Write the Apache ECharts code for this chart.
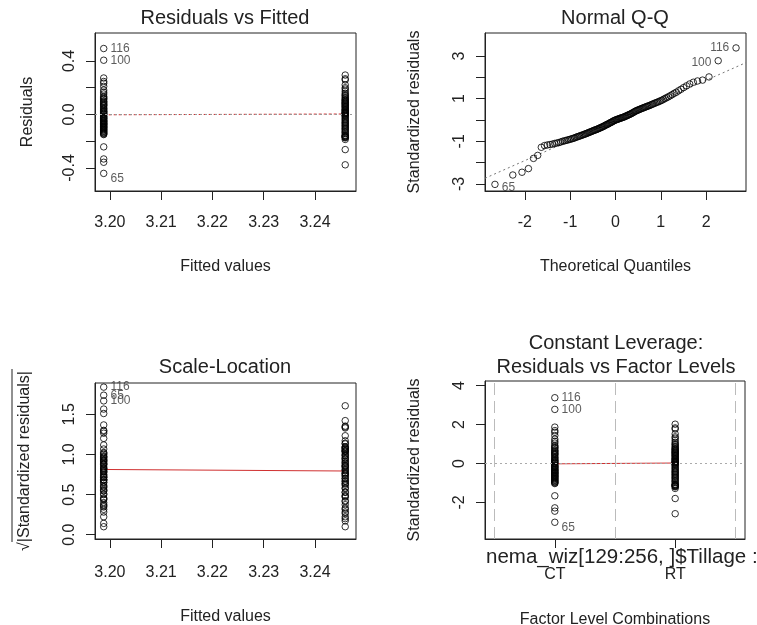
<!DOCTYPE html>
<html><head><meta charset="utf-8">
<script src="https://cdn.jsdelivr.net/npm/echarts@6/dist/echarts.min.js"></script>
<style>html,body{margin:0;padding:0;background:#fff}#c{width:757px;height:625px}</style>
</head><body><div id="c"></div>
<script>
// ---------------- data ----------------
const factorLevels = ['CT', 'RT'];
const fittedValues = [3.1988, 3.2459];          // fitted value of each level
const stdResidCT = [
  3.38, 2.78, -3.02, -2.45, -2.28, -1.66,
  -1.03, -1.00, -0.96, -0.94, -0.90, -0.86, -0.84, -0.79, -0.77, -0.73,
  -0.69, -0.67, -0.63, -0.61, -0.57, -0.53, -0.51, -0.47, -0.46, -0.42,
  -0.38, -0.36, -0.32, -0.30, -0.25, -0.21, -0.19, -0.14, -0.12, -0.08,
  -0.01, 0.02, 0.05, 0.10, 0.13, 0.16, 0.20, 0.26, 0.30, 0.35,
  0.43, 0.47, 0.51, 0.55, 0.61, 0.65, 0.69, 0.77, 0.82, 0.87,
  0.93, 1.05, 1.14, 1.25, 1.44, 1.60, 1.69, 1.87];
const stdResidRT = [
  -2.58, -1.80, -1.28, -1.20, -1.17, -1.15, -1.13, -1.10, -1.08, -1.06,
  -0.98, -0.92, -0.88, -0.81, -0.75, -0.71, -0.65, -0.59, -0.55, -0.49,
  -0.44, -0.40, -0.34, -0.28, -0.23, -0.17, -0.10, -0.05, -0.03, 0.01,
  0.04, 0.07, 0.08, 0.11, 0.14, 0.18, 0.22, 0.24, 0.28, 0.33,
  0.38, 0.41, 0.45, 0.49, 0.53, 0.57, 0.59, 0.63, 0.67, 0.72,
  0.74, 0.79, 0.84, 0.90, 0.97, 1.01, 1.09, 1.19, 1.30, 1.37,
  1.52, 1.77, 1.83, 2.02];
const labelledIds = ['116', '100', '65'];
const labelledStd = [3.38, 2.78, -3.02];
const residualSE = 0.147;

const fittedTicks = [3.20, 3.21, 3.22, 3.23, 3.24];
const residTicks = [-0.4, -0.2, 0, 0.2, 0.4];
const residTickLabels = [-0.4, 0, 0.4];
const qqXTicks = [-2, -1, 0, 1, 2];
const qqYTicks = [-3, -2, -1, 0, 1, 2, 3];
const qqYTickLabels = [-3, -1, 1, 3];
const slTicks = [0, 0.5, 1, 1.5];
const flYTicks = [-2, 0, 2, 4];
const flXTicks = [0, 1];
const levelBoundaries = [-0.5, 0.5, 1.5];

// ---------------- helpers ----------------
const FONT = '"Liberation Sans", Arial, sans-serif';
const TXT = '#222';
function qnorm(p){
  const a=[-3.969683028665376e+01,2.209460984245205e+02,-2.759285104469687e+02,1.383577518672690e+02,-3.066479806614716e+01,2.506628277459239e+00];
  const b=[-5.447609879822406e+01,1.615858368580409e+02,-1.556989798598866e+02,6.680131188771972e+01,-1.328068155288572e+01];
  const c=[-7.784894002430293e-03,-3.223964580411365e-01,-2.400758277161838e+00,-2.549732539343734e+00,4.374664141464968e+00,2.938163982698783e+00];
  const d=[7.784695709041462e-03,3.224671290700398e-01,2.445134137142996e+00,3.754408661907416e+00];
  const pl=0.02425, ph=1-pl; let q,r;
  if(p<pl){q=Math.sqrt(-2*Math.log(p));return (((((c[0]*q+c[1])*q+c[2])*q+c[3])*q+c[4])*q+c[5])/((((d[0]*q+d[1])*q+d[2])*q+d[3])*q+1);}
  if(p<=ph){q=p-0.5;r=q*q;return (((((a[0]*r+a[1])*r+a[2])*r+a[3])*r+a[4])*r+a[5])*q/(((((b[0]*r+b[1])*r+b[2])*r+b[3])*r+b[4])*r+1);}
  q=Math.sqrt(-2*Math.log(1-p));return -(((((c[0]*q+c[1])*q+c[2])*q+c[3])*q+c[4])*q+c[5])/((((d[0]*q+d[1])*q+d[2])*q+d[3])*q+1);
}
function quantile7(sorted, p){
  const h=(sorted.length-1)*p, lo=Math.floor(h);
  return sorted[lo]+(h-lo)*((sorted[Math.min(lo+1,sorted.length-1)])-sorted[lo]);
}
const mean = arr => arr.reduce((s,v)=>s+v,0)/arr.length;
const groups = [stdResidCT, stdResidRT];
const scale = residualSE*Math.sqrt(1-1/stdResidCT.length);
function idOf(v){ const k=labelledStd.indexOf(v); return k>=0?labelledIds[k]:null; }

function pointItem(x, y, id, pos, dy){
  const it = {value:[x,y]};
  if(id){ it.label = {show:true, formatter:id, position:pos, distance:3, offset:[0,dy],
    fontSize:12, color:'#333', fontFamily:FONT}; }
  return it;
}
const pointStyle = {color:'rgba(0,0,0,0)', borderColor:'#000', borderWidth:1};
function scatter(idx, data){
  return {type:'scatter', xAxisIndex:idx, yAxisIndex:idx, data, symbol:'circle', symbolSize:6.5,
    itemStyle:pointStyle, silent:true, z:3};
}
function lineS(idx, data, color, type, extra){
  return Object.assign({type:'line', xAxisIndex:idx, yAxisIndex:idx, data, symbol:'none', silent:true,
    lineStyle:{color, width:1, type}, z:2}, extra||{});
}

// ---- panel data ----
const p1=[], p3=[], p4=[], all=[];
groups.forEach((g,gi)=>{
  g.forEach(v=>{
    const id=idOf(v), dy = v<0?5:0;
    p1.push(pointItem(fittedValues[gi], v*scale, id, 'right', dy));
    p3.push(pointItem(fittedValues[gi], Math.sqrt(Math.abs(v)), id, 'right', 0));
    p4.push(pointItem(gi, v, id, 'right', dy));
    all.push(v);
  });
});
const sorted = all.slice().sort((a,b)=>a-b);
const n = sorted.length;
const p2 = sorted.map((v,i)=>{
  const q = qnorm((i+1-0.5)/n);
  const id = idOf(v);
  return pointItem(q, v, id, q<0?'right':'left', v<0?3:(v>3?0:2));
});
const qy1=quantile7(sorted,0.25), qy3=quantile7(sorted,0.75), qx1=qnorm(0.25), qx3=qnorm(0.75);
const qqSlope=(qy3-qy1)/(qx3-qx1), qqInt=qy1-qqSlope*qx1;
const qqXmin=-2.88, qqXmax=2.88;

// ---- axes ----
function xAx(idx, min, max, ticks, labels, fmt, name, nameGap, margin){
  return {type:'value', gridIndex:idx, min, max, scale:true,
    axisLine:{show:true, onZero:false, lineStyle:{color:'#222', width:1}},
    axisTick:{show:true, inside:false, length:9, customValues:ticks, lineStyle:{color:'#222'}},
    axisLabel:{show:true, customValues:labels, formatter:fmt, color:TXT, fontSize:16, fontFamily:FONT, margin:margin||24},
    splitLine:{show:false},
    name, nameLocation:'middle', nameGap, nameTextStyle:{color:TXT, fontSize:16, fontFamily:FONT}};
}
function yAx(idx, min, max, ticks, labels, fmt, name, nameGap){
  return {type:'value', gridIndex:idx, min, max, scale:true,
    axisLine:{show:true, onZero:false, lineStyle:{color:'#222', width:1}},
    axisTick:{show:true, inside:false, length:9, customValues:ticks, lineStyle:{color:'#222'}},
    axisLabel:{show:true, customValues:labels, formatter:fmt, rotate:90, color:TXT, fontSize:16, fontFamily:FONT, margin:17},
    splitLine:{show:false},
    name, nameLocation:'middle', nameGap, nameRotate:90, nameTextStyle:{color:TXT, fontSize:16, fontFamily:FONT}};
}
const f2 = v=>Number(v).toFixed(2), f1 = v=>Number(v).toFixed(1), f0 = v=>String(v);

const gridBase = {show:true, borderColor:'#222', borderWidth:1, backgroundColor:'rgba(0,0,0,0)', containLabel:false, outerBoundsMode:'none'};
const option = {
  animation:false,
  backgroundColor:'#fff',
  grid:[
    Object.assign({left:95, top:33, width:261, height:158}, gridBase),
    Object.assign({left:485, top:33, width:261, height:158}, gridBase),
    Object.assign({left:95, top:383, width:261, height:156}, gridBase),
    Object.assign({left:485, top:381, width:260, height:158}, gridBase)
  ],
  xAxis:[
    xAx(0, 3.1971, 3.2480, fittedTicks, fittedTicks, f2, 'Fitted values', 68),
    xAx(1, qqXmin, qqXmax, qqXTicks, qqXTicks, f0, 'Theoretical Quantiles', 68),
    xAx(2, 3.1971, 3.2480, fittedTicks, fittedTicks, f2, 'Fitted values', 70, 26),
    xAx(3, -0.58, 1.58, flXTicks, flXTicks, v=>factorLevels[Math.round(v)], 'Factor Level Combinations', 73, 28)
  ],
  yAxis:[
    yAx(0, -0.572, 0.609, residTicks, residTickLabels, f1, 'Residuals', 59),
    yAx(1, -3.33, 4.08, qqYTicks, qqYTickLabels, f0, 'Standardized residuals', 62),
    yAx(2, -0.053, 1.89, slTicks, slTicks, f1, '√|Standardized residuals|', 62),
    yAx(3, -3.88, 4.24, flYTicks, flYTicks, f0, 'Standardized residuals', 62)
  ],
  series:[
    // panel 1
    lineS(0, [[0,0]], '#999', [2,3], {markLine:{silent:true, symbol:['none','none'], label:{show:false},
      lineStyle:{color:'#999', type:[2,3], width:1}, data:[{yAxis:0}]}, lineStyle:{opacity:0}}),
    lineS(0, groups.map((g,gi)=>[fittedValues[gi], mean(g)*scale]), '#d03030', [3,2]),
    scatter(0, p1),
    // panel 2
    lineS(1, [[qqXmin, qqInt+qqSlope*qqXmin],[qqXmax, qqInt+qqSlope*qqXmax]], '#777', [2,3]),
    scatter(1, p2),
    // panel 3
    lineS(2, groups.map((g,gi)=>[fittedValues[gi], mean(g.map(v=>Math.sqrt(Math.abs(v))))]), '#d03030', 'solid'),
    scatter(2, p3),
    // panel 4
    lineS(3, [[0,0]], '#aaa', [2,3], {markLine:{silent:true, symbol:['none','none'], label:{show:false},
      data:[
        {yAxis:0, lineStyle:{color:'#aaa', type:[2,3], width:1}},
        ...levelBoundaries.map(b=>({xAxis:b, lineStyle:{color:'#bbb', type:[12,6], width:1}}))
      ]}, lineStyle:{opacity:0}}),
    lineS(3, groups.map((g,gi)=>[gi, mean(g)]), '#d03030', 'solid'),
    scatter(3, p4)
  ],
  graphic:[
    {type:'text', x:225, y:18, style:{text:'Residuals vs Fitted', font:'20px '+FONT, fill:TXT, textAlign:'center', textVerticalAlign:'middle'}},
    {type:'text', x:615, y:18, style:{text:'Normal Q-Q', font:'20px '+FONT, fill:TXT, textAlign:'center', textVerticalAlign:'middle'}},
    {type:'text', x:225, y:367, style:{text:'Scale-Location', font:'20px '+FONT, fill:TXT, textAlign:'center', textVerticalAlign:'middle'}},
    {type:'text', x:616, y:343, style:{text:'Constant Leverage:', font:'20px '+FONT, fill:TXT, textAlign:'center', textVerticalAlign:'middle'}},
    {type:'text', x:616, y:367, style:{text:'Residuals vs Factor Levels', font:'20px '+FONT, fill:TXT, textAlign:'center', textVerticalAlign:'middle'}},
    {type:'text', x:486, y:557, z:10, style:{text:'nema_wiz[129:256, ]$Tillage :', font:'20.5px '+FONT, fill:TXT, textAlign:'left', textVerticalAlign:'middle'}},
    {type:'line', shape:{x1:12, y1:369, x2:12, y2:542}, style:{stroke:TXT, lineWidth:1}}
  ]
};
const chart = echarts.init(document.getElementById('c'), null, {renderer:'canvas'});
chart.setOption(option);
</script></body></html>
